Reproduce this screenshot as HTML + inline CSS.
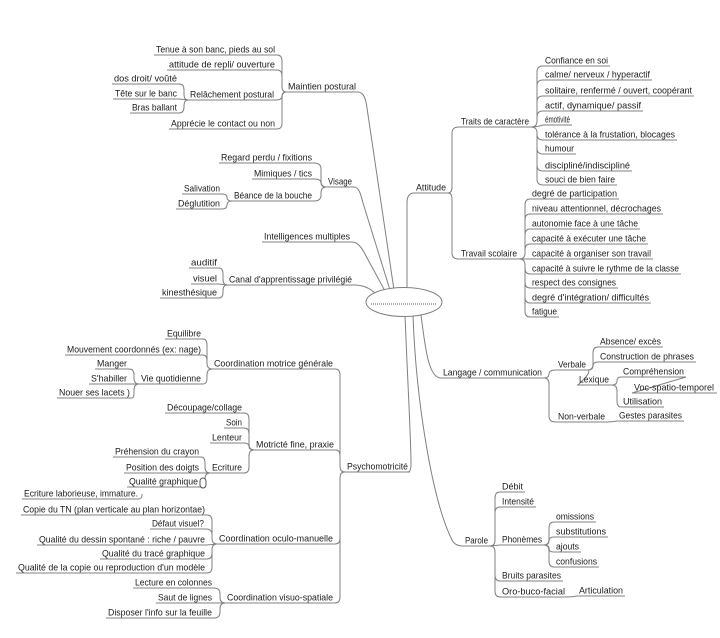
<!DOCTYPE html>
<html><head><meta charset="utf-8"><style>
html,body{margin:0;padding:0;background:#fff;}
svg{display:block;}
text{font-family:"Liberation Sans",Arial,sans-serif;font-size:9.5px;fill:#1c1c1c;}
.l{fill:none;stroke:#808080;stroke-width:1;}
.u{fill:none;stroke:#808080;stroke-width:1;}
</style></head><body>
<svg width="720" height="638" viewBox="0 0 720 638" xmlns="http://www.w3.org/2000/svg">
<!-- underlines -->
<path class="u" d="
M154 55H277 M167 70H277 M112 84H179 M113 99H179 M188 100H276 M130 113H179 M169 129H277 M286 92H358
M219 163H314 M252 179H314 M326 187H354 M182 194H222 M232 201H314 M176 209H222 M262 242H352
M189 268H219 M191 284H219 M227 285H354 M160 298H219
M165 339H203 M65 355H203 M95 369H129 M212 369H335 M89 384H129 M139 384H203 M57 398H132
M165 413H244 M224 428H244 M210 443H244 M254 450H336 M113 457H201 M124 473H201 M210 473H244 M345 472H410
M127 487H200 M22 499H139 M21 515H207 M150 529H206 M37 545H207 M217 544H335 M100 559H207 M16 573H207
M133 588H214 M156 603H214 M225 603H335 M106 618H214
M414 193H448 M459 127H531
M543 66H610 M543 80H652 M543 96H694 M543 111H643 M543 125H572 M543 140H677 M543 154H576 M543 171H632 M543 185H617
M459 259H519
M530 199H619 M530 214H663 M530 229H640 M530 244H648 M530 259H653 M530 274H681 M530 288H618 M530 303H651 M530 317H559
M441 378H544 M556 370H588 M598 347H663 M598 362H696 M577 385H612 M621 377H686 M632 393H717 M621 407H664 M556 422H607 M617 421H684
M463 546H490 M500 492H525 M500 507H536 M500 545H544 M554 522H596 M554 537H608 M554 552H581 M554 567H599 M500 581H563 M500 597H567 M577 596H625
"/>
<!-- sub connectors -->
<path class="l" d="
M277,55 Q282,55 282,61 V86 Q282,92 286,92
M277,70 Q282,70 282,76 V86 Q282,92 286,92
M276,100 Q282,100 282,96 Q282,92 286,92
M277,129 Q282,129 282,123 V98 Q282,92 286,92
M179,84 Q184,84 184,90 V94 Q184,100 188,100
M179,99 L188,100
M179,113 Q184,113 184,107 V106 Q184,100 188,100
M314,163 Q321,163 321,169 V181 Q321,187 326,187
M314,179 Q321,179 321,183 Q321,187 326,187
M314,201 Q321,201 321,195 V193 Q321,187 326,187
M222,194 Q227,194 227,197.5 Q227,201 232,201
M222,209 Q227,209 227,205 Q227,201 232,201
M219,268 Q223,268 223,274 V279 Q223,285 227,285
M219,284 L227,285
M219,298 Q223,298 223,292 V291 Q223,285 227,285
M335,369 Q340,369 340,375 V466 Q340,472 345,472
M336,450 Q340,450 340,456 V466 Q340,472 345,472
M335,544 Q340,544 340,538 V478 Q340,472 345,472
M335,603 Q340,603 340,597 V478 Q340,472 345,472
M203,339 Q207,339 207,345 V363 Q207,369 212,369
M203,355 Q207,355 207,361 V363 Q207,369 212,369
M203,384 Q207,384 207,378 V375 Q207,369 212,369
M129,369 Q134,369 134,375 V378 Q134,384 139,384
M129,384 L139,384
M132,398 Q134,398 134,392 V390 Q134,384 139,384
M244,413 Q249,413 249,419 V444 Q249,450 254,450
M244,428 Q249,428 249,434 V444 Q249,450 254,450
M244,443 Q249,443 249,446.5 Q249,450 254,450
M244,473 Q249,473 249,467 V456 Q249,450 254,450
M201,457 Q205,457 205,463 V467 Q205,473 210,473
M201,473 L210,473
M200,487 Q205,487 205,481 V479 Q205,473 210,473
M139,499 Q142,499 142,494
M207,515 Q212,515 212,521 V538 Q212,544 217,544
M206,529 Q212,529 212,535 V538 Q212,544 217,544
M207,545 L217,544
M207,559 Q212,559 212,553 V550 Q212,544 217,544
M207,573 Q212,573 212,567 V550 Q212,544 217,544
M214,588 Q220,588 220,594 V597 Q220,603 225,603
M214,603 L225,603
M214,618 Q220,618 220,612 V609 Q220,603 225,603
M448,193 Q452,193 452,187 V133 Q452,127 459,127
M448,193 Q452,193 452,199 V253 Q452,259 459,259
M531,127 Q537,127 537,121 V72 Q537,66 543,66
M531,127 Q537,127 537,121 V86 Q537,80 543,80
M531,127 Q537,127 537,121 V102 Q537,96 543,96
M531,127 Q537,127 537,121 V117 Q537,111 543,111
M531,127 Q537,127 543,125
M531,127 Q537,127 537,133 V134 Q537,140 543,140
M531,127 Q537,127 537,133 V148 Q537,154 543,154
M531,127 Q537,127 537,133 V165 Q537,171 543,171
M531,127 Q537,127 537,133 V179 Q537,185 543,185
M519,259 Q525,259 525,253 V205 Q525,199 530,199
M519,259 Q525,259 525,253 V220 Q525,214 530,214
M519,259 Q525,259 525,253 V235 Q525,229 530,229
M519,259 Q525,259 525,253 V250 Q525,244 530,244
M519,259 L530,259
M519,259 Q525,259 525,265 V268 Q525,274 530,274
M519,259 Q525,259 525,265 V282 Q525,288 530,288
M519,259 Q525,259 525,265 V297 Q525,303 530,303
M519,259 Q525,259 525,265 V311 Q525,317 530,317
M544,378 Q549,378 549,374 Q549,370 556,370
M544,378 Q549,378 549,384 V416 Q549,422 556,422
M588,370 Q593,370 593,364 V353 Q593,347 598,347
M588,370 Q593,370 593,366 Q593,362 598,362
M588,370 Q591,372 583,380 L578,385
M612,385 Q617,385 617,381 Q617,377 621,377
M612,385 Q617,385 617,391 V401 Q617,407 621,407
M686,377 L632,393
M607,422 Q612,422 617,421
M490,546 Q495,546 495,540 V498 Q495,492 500,492
M490,546 Q495,546 495,540 V513 Q495,507 500,507
M490,546 L500,545
M490,546 Q495,546 495,552 V575 Q495,581 500,581
M490,546 Q495,546 495,552 V591 Q495,597 500,597
M544,545 Q549,545 549,539 V528 Q549,522 554,522
M544,545 Q549,545 549,541 Q549,537 554,537
M544,545 Q549,545 549,548.5 Q549,552 554,552
M544,545 Q549,545 549,551 V561 Q549,567 554,567
M567,597 Q572,597 577,596
"/>
<!-- main connectors -->
<path class="l" d="
M358,92 C364,92 366,100 367,108 L394,290
M354,187 C359,187 361,195 363,203 L390,290
M352,242 C358,242 362,248 366,256 L385,291
M354,285 C362,285 370,288 376,294
M407,290 L407,203 Q407,193 414,193
M405,315 C408,390 411,440 411,464 Q411,472 408,472
M413,315 C416,400 432,500 452,540 Q455,546 463,546
M421,315 C425,345 428,378 441,378
"/>
<ellipse cx="404" cy="302" rx="38" ry="14.5" fill="#fff" stroke="#808080" stroke-width="1"/>
<line x1="371" y1="304" x2="437" y2="304" stroke="#555" stroke-width="1" stroke-dasharray="1,1"/>
<rect x="200" y="478" width="6" height="10" rx="3" fill="#fff" stroke="#555" stroke-width="1"/>

<text x="156" y="52.5" textLength="119" lengthAdjust="spacingAndGlyphs">Tenue à son banc, pieds au sol</text>
<text x="169" y="67.5" textLength="106" lengthAdjust="spacingAndGlyphs">attitude de repli/ ouverture</text>
<text x="114" y="81.5" textLength="63" lengthAdjust="spacingAndGlyphs">dos droit/ voûté</text>
<text x="115" y="96.5" textLength="62" lengthAdjust="spacingAndGlyphs">Tête sur le banc</text>
<text x="190" y="97.5" textLength="84" lengthAdjust="spacingAndGlyphs">Relâchement postural</text>
<text x="132" y="110.5" textLength="45" lengthAdjust="spacingAndGlyphs">Bras ballant</text>
<text x="171" y="126.5" textLength="104" lengthAdjust="spacingAndGlyphs">Apprécie le contact ou non</text>
<text x="288" y="89.5" textLength="68" lengthAdjust="spacingAndGlyphs">Maintien postural</text>
<text x="221" y="160.5" textLength="91" lengthAdjust="spacingAndGlyphs">Regard perdu / fixitions</text>
<text x="254" y="176.5" textLength="58" lengthAdjust="spacingAndGlyphs">Mimiques / tics</text>
<text x="328" y="184.5" textLength="24" lengthAdjust="spacingAndGlyphs">Visage</text>
<text x="184" y="191.5" textLength="36" lengthAdjust="spacingAndGlyphs">Salivation</text>
<text x="234" y="198.5" textLength="78" lengthAdjust="spacingAndGlyphs">Béance de la bouche</text>
<text x="178" y="206.5" textLength="42" lengthAdjust="spacingAndGlyphs">Déglutition</text>
<text x="264" y="239.5" textLength="86" lengthAdjust="spacingAndGlyphs">Intelligences multiples</text>
<text x="191" y="265.5" textLength="26" lengthAdjust="spacingAndGlyphs">auditif</text>
<text x="193" y="281.5" textLength="24" lengthAdjust="spacingAndGlyphs">visuel</text>
<text x="229" y="282.5" textLength="123" lengthAdjust="spacingAndGlyphs">Canal d'apprentissage privilégié</text>
<text x="162" y="295.5" textLength="55" lengthAdjust="spacingAndGlyphs">kinesthésique</text>

<text x="167" y="336.5" textLength="34" lengthAdjust="spacingAndGlyphs">Equilibre</text>
<text x="67" y="352.5" textLength="134" lengthAdjust="spacingAndGlyphs">Mouvement coordonnés (ex: nage)</text>
<text x="97" y="366.5" textLength="30" lengthAdjust="spacingAndGlyphs">Manger</text>
<text x="214" y="366.5" textLength="119" lengthAdjust="spacingAndGlyphs">Coordination motrice générale</text>
<text x="91" y="381.5" textLength="36" lengthAdjust="spacingAndGlyphs">S'habiller</text>
<text x="141" y="381.5" textLength="60" lengthAdjust="spacingAndGlyphs">Vie quotidienne</text>
<text x="59" y="395.5" textLength="71" lengthAdjust="spacingAndGlyphs">Nouer ses lacets )</text>
<text x="167" y="410.5" textLength="75" lengthAdjust="spacingAndGlyphs">Découpage/collage</text>
<text x="226" y="425.5" textLength="16" lengthAdjust="spacingAndGlyphs">Soin</text>
<text x="212" y="440.5" textLength="30" lengthAdjust="spacingAndGlyphs">Lenteur</text>
<text x="256" y="447.5" textLength="78" lengthAdjust="spacingAndGlyphs">Motricté fine, praxie</text>
<text x="115" y="454.5" textLength="84" lengthAdjust="spacingAndGlyphs">Préhension du crayon</text>
<text x="126" y="470.5" textLength="73" lengthAdjust="spacingAndGlyphs">Position des doigts</text>
<text x="212" y="470.5" textLength="30" lengthAdjust="spacingAndGlyphs">Ecriture</text>
<text x="347" y="469.5" textLength="61" lengthAdjust="spacingAndGlyphs">Psychomotricité</text>
<text x="129" y="484.5" textLength="69" lengthAdjust="spacingAndGlyphs">Qualité graphique</text>
<text x="24" y="496.5" textLength="114" lengthAdjust="spacingAndGlyphs">Ecriture laborieuse, immature.</text>
<text x="23" y="512.5" textLength="182" lengthAdjust="spacingAndGlyphs">Copie du TN (plan verticale au plan horizontae)</text>
<text x="152" y="526.5" textLength="52" lengthAdjust="spacingAndGlyphs">Défaut visuel?</text>
<text x="39" y="542.5" textLength="166" lengthAdjust="spacingAndGlyphs">Qualité du dessin spontané : riche / pauvre</text>
<text x="219" y="541.5" textLength="114" lengthAdjust="spacingAndGlyphs">Coordination oculo-manuelle</text>
<text x="102" y="556.5" textLength="103" lengthAdjust="spacingAndGlyphs">Qualité du tracé graphique</text>
<text x="18" y="570.5" textLength="187" lengthAdjust="spacingAndGlyphs">Qualité de la copie ou reproduction d'un modèle</text>
<text x="135" y="585.5" textLength="77" lengthAdjust="spacingAndGlyphs">Lecture en colonnes</text>
<text x="158" y="600.5" textLength="54" lengthAdjust="spacingAndGlyphs">Saut de lignes</text>
<text x="227" y="600.5" textLength="106" lengthAdjust="spacingAndGlyphs">Coordination visuo-spatiale</text>
<text x="108" y="615.5" textLength="104" lengthAdjust="spacingAndGlyphs">Disposer l'info sur la feuille</text>

<text x="416" y="190.5" textLength="30" lengthAdjust="spacingAndGlyphs">Attitude</text>
<text x="461" y="124.5" textLength="68" lengthAdjust="spacingAndGlyphs">Traits de caractère</text>
<text x="545" y="63.5" textLength="63" lengthAdjust="spacingAndGlyphs">Confiance en soi</text>
<text x="545" y="77.5" textLength="105" lengthAdjust="spacingAndGlyphs">calme/ nerveux / hyperactif</text>
<text x="545" y="93.5" textLength="147" lengthAdjust="spacingAndGlyphs">solitaire, renfermé / ouvert, coopérant</text>
<text x="545" y="108.5" textLength="96" lengthAdjust="spacingAndGlyphs">actif, dynamique/ passif</text>
<text x="545" y="122.5" textLength="25" lengthAdjust="spacingAndGlyphs">émotivité</text>
<text x="545" y="137.5" textLength="130" lengthAdjust="spacingAndGlyphs">tolérance à la frustation, blocages</text>
<text x="545" y="151.5" textLength="29" lengthAdjust="spacingAndGlyphs">humour</text>
<text x="545" y="168.5" textLength="85" lengthAdjust="spacingAndGlyphs">discipliné/indiscipliné</text>
<text x="545" y="182.5" textLength="70" lengthAdjust="spacingAndGlyphs">souci de bien faire</text>
<text x="461" y="256.5" textLength="56" lengthAdjust="spacingAndGlyphs">Travail scolaire</text>
<text x="532" y="196.5" textLength="85" lengthAdjust="spacingAndGlyphs">degré de participation</text>
<text x="532" y="211.5" textLength="129" lengthAdjust="spacingAndGlyphs">niveau attentionnel, décrochages</text>
<text x="532" y="226.5" textLength="106" lengthAdjust="spacingAndGlyphs">autonomie face à une tâche</text>
<text x="532" y="241.5" textLength="114" lengthAdjust="spacingAndGlyphs">capacité à exécuter une tâche</text>
<text x="532" y="256.5" textLength="119" lengthAdjust="spacingAndGlyphs">capacité à organiser son travail</text>
<text x="532" y="271.5" textLength="147" lengthAdjust="spacingAndGlyphs">capacité à suivre le rythme de la classe</text>
<text x="532" y="285.5" textLength="84" lengthAdjust="spacingAndGlyphs">respect des consignes</text>
<text x="532" y="300.5" textLength="117" lengthAdjust="spacingAndGlyphs">degré d'intégration/ difficultés</text>
<text x="532" y="314.5" textLength="25" lengthAdjust="spacingAndGlyphs">fatigue</text>

<text x="443" y="375.5" textLength="99" lengthAdjust="spacingAndGlyphs">Langage / communication</text>
<text x="558" y="367.5" textLength="28" lengthAdjust="spacingAndGlyphs">Verbale</text>
<text x="600" y="344.5" textLength="61" lengthAdjust="spacingAndGlyphs">Absence/ excès</text>
<text x="600" y="359.5" textLength="94" lengthAdjust="spacingAndGlyphs">Construction de phrases</text>
<text x="579" y="382.5" textLength="30" lengthAdjust="spacingAndGlyphs">Lexique</text>
<text x="623" y="374.5" textLength="61" lengthAdjust="spacingAndGlyphs">Compréhension</text>
<text x="634" y="390.5" textLength="80" lengthAdjust="spacingAndGlyphs">Voc-spatio-temporel</text>
<text x="623" y="404.5" textLength="39" lengthAdjust="spacingAndGlyphs">Utilisation</text>
<text x="558" y="419.5" textLength="47" lengthAdjust="spacingAndGlyphs">Non-verbale</text>
<text x="619" y="418.5" textLength="63" lengthAdjust="spacingAndGlyphs">Gestes parasites</text>

<text x="465" y="543.5" textLength="23" lengthAdjust="spacingAndGlyphs">Parole</text>
<text x="502" y="489.5" textLength="21" lengthAdjust="spacingAndGlyphs">Débit</text>
<text x="502" y="504.5" textLength="32" lengthAdjust="spacingAndGlyphs">Intensité</text>
<text x="502" y="542.5" textLength="40" lengthAdjust="spacingAndGlyphs">Phonèmes</text>
<text x="556" y="519.5" textLength="38" lengthAdjust="spacingAndGlyphs">omissions</text>
<text x="556" y="534.5" textLength="50" lengthAdjust="spacingAndGlyphs">substitutions</text>
<text x="556" y="549.5" textLength="23" lengthAdjust="spacingAndGlyphs">ajouts</text>
<text x="556" y="564.5" textLength="41" lengthAdjust="spacingAndGlyphs">confusions</text>
<text x="502" y="578.5" textLength="59" lengthAdjust="spacingAndGlyphs">Bruits parasites</text>
<text x="502" y="594.5" textLength="63" lengthAdjust="spacingAndGlyphs">Oro-buco-facial</text>
<text x="579" y="593.5" textLength="44" lengthAdjust="spacingAndGlyphs">Articulation</text>
</svg>
</body></html>
